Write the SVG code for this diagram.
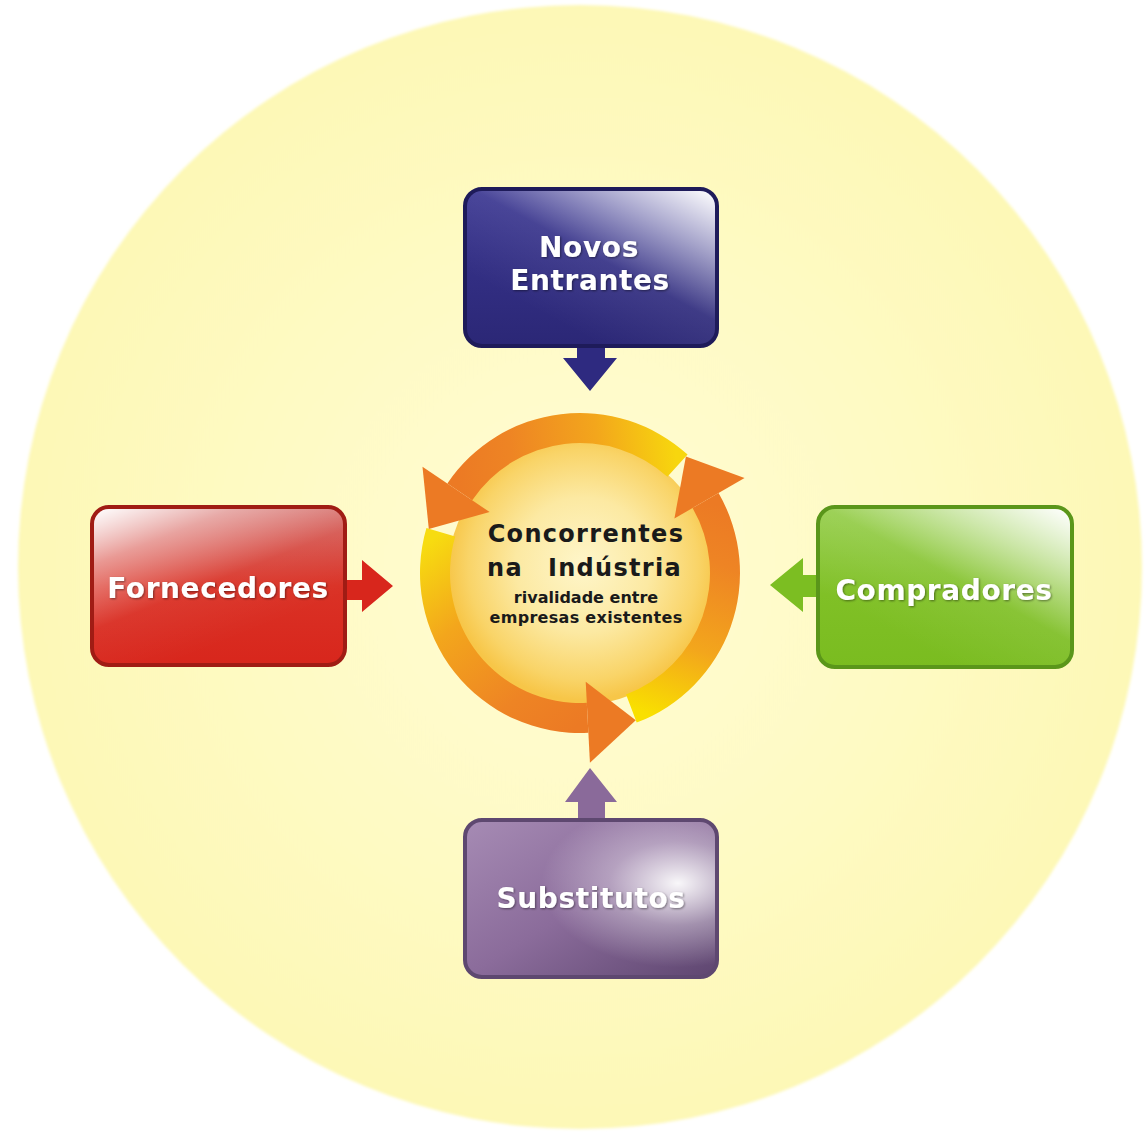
<svg xmlns="http://www.w3.org/2000/svg" width="1147" height="1135" viewBox="0 0 1147 1135">
<defs>
<style>
.lbl{font-family:"DejaVu Sans","Liberation Sans",Arial,sans-serif;font-weight:bold;font-size:28px;fill:#ffffff;letter-spacing:0.6px;text-anchor:middle;filter:url(#tsh)}
.ctr{font-family:"DejaVu Sans","Liberation Sans",Arial,sans-serif;font-weight:bold;fill:#1a1a1a}
.box{stroke-width:4}
</style>
<filter id="tsh" x="-10%" y="-30%" width="120%" height="160%">
<feDropShadow dx="1" dy="1" stdDeviation="1" flood-color="#000" flood-opacity="0.45"/>
</filter>
<filter id="soft" x="-5%" y="-5%" width="110%" height="110%">
<feGaussianBlur stdDeviation="1.5"/>
</filter>
<radialGradient id="bgG" cx="580" cy="567" r="562" gradientUnits="userSpaceOnUse">
<stop offset="0" stop-color="#fffbd4"/>
<stop offset="0.5" stop-color="#fefac6"/>
<stop offset="1" stop-color="#fdf8b6"/>
</radialGradient>
<radialGradient id="discG" cx="583" cy="565" r="135" gradientUnits="userSpaceOnUse">
<stop offset="0" stop-color="#fef6ca"/>
<stop offset="0.5" stop-color="#fce9a2"/>
<stop offset="0.85" stop-color="#f9d468"/>
<stop offset="1" stop-color="#f7c648"/>
</radialGradient>
<linearGradient id="gA" x1="677.5" y1="465.7" x2="459.8" y2="491.9" gradientUnits="userSpaceOnUse">
<stop offset="0" stop-color="#f7d60e"/>
<stop offset="0.35" stop-color="#f3a61c"/>
<stop offset="0.75" stop-color="#ee8424"/>
<stop offset="1" stop-color="#ec7a24"/>
</linearGradient>
<linearGradient id="gB" x1="631.4" y1="708.6" x2="705.6" y2="500.5" gradientUnits="userSpaceOnUse">
<stop offset="0" stop-color="#f9e000"/>
<stop offset="0.35" stop-color="#f3a61c"/>
<stop offset="0.75" stop-color="#ee8424"/>
<stop offset="1" stop-color="#ec7a24"/>
</linearGradient>
<linearGradient id="gC" x1="440.8" y1="532.3" x2="587.6" y2="717.8" gradientUnits="userSpaceOnUse">
<stop offset="0" stop-color="#f7dc10"/>
<stop offset="0.35" stop-color="#f3a61c"/>
<stop offset="0.75" stop-color="#ee8424"/>
<stop offset="1" stop-color="#ec7a24"/>
</linearGradient>
<linearGradient id="blueBase" x1="0" y1="0" x2="0" y2="1">
<stop offset="0" stop-color="#3b3792"/>
<stop offset="1" stop-color="#2b2776"/>
</linearGradient>
<linearGradient id="hiTR" x1="1" y1="0" x2="0.3" y2="0.8">
<stop offset="0" stop-color="#ffffff" stop-opacity="1"/>
<stop offset="0.3" stop-color="#ffffff" stop-opacity="0.55"/>
<stop offset="0.6" stop-color="#ffffff" stop-opacity="0.08"/>
<stop offset="1" stop-color="#ffffff" stop-opacity="0"/>
</linearGradient>
<linearGradient id="redBase" x1="0" y1="0" x2="0" y2="1">
<stop offset="0" stop-color="#d46a66"/>
<stop offset="0.5" stop-color="#da3226"/>
<stop offset="1" stop-color="#d8261c"/>
</linearGradient>
<linearGradient id="hiTL" x1="0" y1="0" x2="0.55" y2="0.85">
<stop offset="0" stop-color="#ffffff" stop-opacity="1"/>
<stop offset="0.3" stop-color="#ffffff" stop-opacity="0.45"/>
<stop offset="0.65" stop-color="#ffffff" stop-opacity="0.05"/>
<stop offset="1" stop-color="#ffffff" stop-opacity="0"/>
</linearGradient>
<linearGradient id="greenBase" x1="0" y1="0" x2="0" y2="1">
<stop offset="0" stop-color="#96ce4c"/>
<stop offset="0.55" stop-color="#80c026"/>
<stop offset="1" stop-color="#7abc20"/>
</linearGradient>
<linearGradient id="purpleBase" x1="0" y1="0" x2="1" y2="1">
<stop offset="0" stop-color="#a68bb4"/>
<stop offset="0.5" stop-color="#8b6c9b"/>
<stop offset="1" stop-color="#5e4670"/>
</linearGradient>
<radialGradient id="hiMid" cx="0.85" cy="0.4" r="0.55">
<stop offset="0" stop-color="#ffffff" stop-opacity="0.95"/>
<stop offset="0.5" stop-color="#ffffff" stop-opacity="0.35"/>
<stop offset="1" stop-color="#ffffff" stop-opacity="0"/>
</radialGradient>
</defs>

<rect width="1147" height="1135" fill="#ffffff"/>
<circle cx="580" cy="567" r="562" fill="url(#bgG)" filter="url(#soft)"/>

<g id="concorrentes">
<circle cx="580" cy="573" r="132" fill="url(#discG)"/>
<path d="M687.58,454.56 A160,160 0 0 0 447.35,483.53 L472.22,500.31 A130,130 0 0 1 667.41,476.77 Z" fill="url(#gA)"/>
<path d="M636.69,722.62 A160,160 0 0 0 718.56,493.0 L692.58,508.0 A130,130 0 0 1 626.06,694.57 Z" fill="url(#gB)"/>
<path d="M426.43,528.09 A160,160 0 0 0 588.37,732.78 L586.80,702.82 A130,130 0 0 1 455.22,536.51 Z" fill="url(#gC)"/>
<polygon points="422.48,466.75 428.80,528.91 489.63,512.05" fill="#ec7a24"/>
<polygon points="744.55,478.0 685.90,456.43 674.40,518.5" fill="#ec7a24"/>
<polygon points="589.94,762.74 635.78,720.28 585.71,681.85" fill="#ec7a24"/>
<text class="ctr" x="586" y="542" font-size="24" letter-spacing="1.3" text-anchor="middle">Concorrentes</text>
<text class="ctr" y="576" font-size="24" letter-spacing="1.3"><tspan x="487">na </tspan><tspan x="548">Indústria</tspan></text>
<text class="ctr" x="586" y="603" font-size="16" text-anchor="middle" fill="#2a2a2a">rivalidade entre</text>
<text class="ctr" x="586" y="623" font-size="16" letter-spacing="0.3" text-anchor="middle" fill="#2a2a2a">empresas existentes</text>
</g>

<g id="connectors">
<polygon points="577,344 605,344 605,358 617,358 590,391 563,358 577,358" fill="#2e2a80"/>
<polygon points="343,580 362,580 362,560 393,586 362,612 362,600 343,600" fill="#d8261c"/>
<polygon points="820,575 803,575 803,558 770,585 803,612 803,597 820,597" fill="#7cbe22"/>
<polygon points="578,822 578,802 565,802 590,768 617,802 605,802 605,822" fill="#8a6a9a"/>
</g>

<g id="novos-entrantes">
<rect class="box" x="465" y="189" width="252" height="157" rx="17" fill="url(#blueBase)" stroke="#1e1b5a"/>
<rect x="467" y="191" width="248" height="153" rx="15" fill="url(#hiTR)"/>
<text class="lbl" x="589" y="257">Novos</text>
<text class="lbl" x="590" y="290">Entrantes</text>
</g>

<g id="fornecedores">
<rect class="box" x="92" y="507" width="253" height="158" rx="17" fill="url(#redBase)" stroke="#a01c14"/>
<rect x="94" y="509" width="249" height="154" rx="15" fill="url(#hiTL)"/>
<text class="lbl" x="218" y="598">Fornecedores</text>
</g>

<g id="compradores">
<rect class="box" x="818" y="507" width="254" height="160" rx="17" fill="url(#greenBase)" stroke="#5a961a"/>
<rect x="820" y="509" width="250" height="156" rx="15" fill="url(#hiTR)"/>
<text class="lbl" x="944" y="600">Compradores</text>
</g>

<g id="substitutos">
<rect class="box" x="465" y="820" width="252" height="157" rx="17" fill="url(#purpleBase)" stroke="#5e4870"/>
<rect x="467" y="822" width="248" height="153" rx="15" fill="url(#hiMid)"/>
<text class="lbl" x="591" y="908">Substitutos</text>
</g>
</svg>
